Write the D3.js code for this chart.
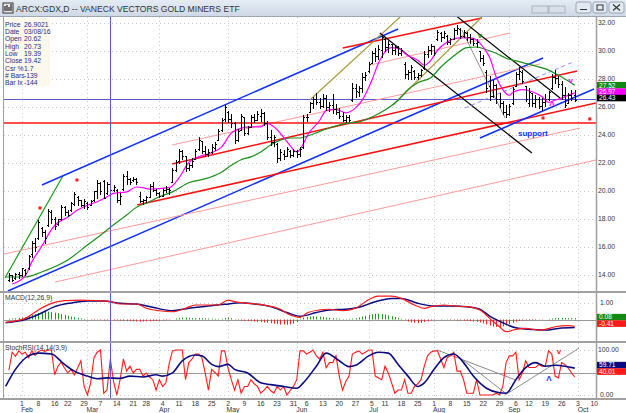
<!DOCTYPE html>
<html><head><meta charset="utf-8">
<script src="https://cdn.jsdelivr.net/npm/d3@7"></script>
<style>
body{margin:0;background:#fff;overflow:hidden;}
svg text{font-family:"Liberation Sans",Arial,sans-serif;}
</style></head><body>
<svg id="chart" width="626" height="413"></svg>
<script>
// ---- data ----
var holidays = ["2016-02-15","2016-03-25","2016-05-30","2016-07-04","2016-09-05"];
var barStart = "2016-01-26";
//            Jan(4)                Feb(20)
var opens = [13.6,13.9,13.7,14.0, 13.9,14.3,14.4,15.4,16.2,16.6,17.3,17.0,17.5,18.4,17.9,17.6,17.9,18.8,18.4,18.6,19.0,19.5,19.3,18.9,
  // Mar(22)
  19.1,18.9,19.3,19.9,20.5,20.62,19.8,20.4,20.0,20.0,19.3,20.1,21.0,20.8,20.7,20.8,19.6,19.2,19.3,19.5,20.3,20.0,
  // Apr(21)
  19.8,19.6,20.0,20.1,20.6,21.4,22.1,22.8,22.4,21.6,21.8,22.2,22.9,23.5,22.8,22.6,22.7,23.0,23.6,24.3,25.1,
  // May(21)
  25.6,25.1,24.8,23.6,24.3,25.2,24.1,24.5,25.2,25.0,25.3,25.5,24.8,23.8,23.4,23.3,22.3,22.6,22.4,22.8,22.5,
  // Jun(22)
  22.8,22.6,23.1,25.2,25.6,26.2,26.5,26.3,26.0,26.6,25.9,26.1,25.8,25.6,25.3,25.0,25.2,26.4,27.3,27.0,27.3,28.1,
  // Jul(20)
  28.5,29.1,29.8,29.6,30.0,30.8,30.2,30.4,30.0,30.2,29.8,29.0,28.3,28.4,28.5,28.1,28.2,28.7,29.7,30.0,
  // Aug(23)
  30.3,30.8,31.2,30.9,31.0,30.6,30.8,31.4,31.5,31.0,31.2,30.9,30.8,30.5,29.9,29.4,28.4,27.4,26.7,27.5,26.5,26.2,25.6,
  // Sep(21)
  25.4,26.2,27.4,28.3,28.4,27.4,26.2,26.9,26.2,26.5,26.0,26.3,26.5,27.3,28.1,28.0,27.6,26.8,26.2,26.8,26.8];
var highs = [14.1,14.0,14.1,14.2, 14.5,14.4,15.4,16.4,16.6,17.9,17.4,17.2,18.7,18.6,18.1,18.0,19.0,18.9,18.6,19.2,19.9,19.6,19.3,19.4,
  19.2,19.3,20.0,20.75,20.6,20.73,20.6,20.5,20.4,20.1,19.8,21.2,21.4,20.9,21.0,20.9,19.9,19.4,19.6,20.5,20.6,20.1,
  19.9,20.2,20.3,20.2,21.6,22.2,23.0,22.9,22.5,22.0,22.3,23.0,23.8,23.5,23.2,23.0,23.3,23.5,24.4,25.2,26.1,
  25.7,25.5,24.9,24.4,25.5,25.2,24.6,25.4,25.5,25.7,25.8,25.6,25.0,24.3,24.0,23.4,23.0,22.9,23.1,22.9,23.0,
  22.9,23.1,25.4,25.5,26.3,26.7,27.0,26.6,26.9,26.8,26.3,26.9,26.2,25.9,25.6,25.4,25.4,27.7,27.6,27.5,28.4,28.5,
  29.2,30.0,30.2,30.4,31.1,30.9,30.7,30.5,30.4,30.3,30.2,29.2,28.6,29.0,28.6,28.4,28.7,30.0,30.3,30.5,
  30.3,31.5,31.3,31.4,31.1,30.9,31.6,31.8,31.6,31.5,31.3,31.2,30.9,30.8,30.0,29.7,28.6,28.2,27.9,27.6,27.0,26.4,26.1,
  26.2,27.4,28.5,28.8,28.6,27.5,27.3,27.0,26.8,26.7,26.6,26.9,27.1,28.3,28.6,28.2,27.8,27.4,27.0,27.2,27.2];
var lows = [13.5,13.5,13.6,13.7, 13.8,13.9,14.3,15.2,15.6,16.5,16.7,16.2,17.4,17.6,17.2,17.5,17.8,18.2,18.1,18.5,18.9,18.9,18.8,18.7,
  18.6,18.9,19.2,19.4,19.7,19.39,19.7,19.8,19.9,19.1,19.0,20.0,20.4,20.4,20.6,20.4,19.1,19.0,19.1,19.5,19.9,19.6,
  19.5,19.6,19.8,19.7,20.6,21.3,21.9,22.2,21.3,21.4,21.6,22.2,22.8,22.6,22.4,22.4,22.6,22.8,23.6,24.2,24.9,
  24.8,24.5,23.3,23.5,24.3,23.9,24.0,24.5,24.8,25.0,24.9,24.6,23.6,23.2,23.1,22.0,22.1,22.2,22.4,22.3,22.4,
  22.3,22.4,23.0,24.9,25.6,25.8,26.1,25.8,25.9,25.7,25.6,25.5,25.4,25.1,24.9,24.8,24.9,26.3,26.6,26.7,27.0,27.8,
  28.4,29.1,29.2,29.3,29.5,29.9,29.8,29.7,29.7,29.6,29.6,28.0,27.9,27.9,27.9,27.9,28.1,28.6,29.5,29.7,
  29.6,30.7,30.6,30.8,30.4,30.4,30.8,31.1,30.8,30.9,30.7,30.5,30.3,30.2,29.2,28.9,27.0,26.4,26.6,26.2,25.9,25.4,25.2,
  25.3,26.1,27.4,27.9,27.6,26.3,26.0,26.0,25.9,25.8,25.7,26.0,26.4,27.2,27.6,27.3,26.5,25.9,26.2,26.4,26.3];
var closes = [13.9,13.6,14.0,13.9, 14.4,14.1,15.3,16.2,15.9,17.7,17.0,16.6,18.5,17.9,17.4,17.9,18.8,18.4,18.2,19.1,19.7,19.3,18.9,19.2,
  18.8,19.2,19.9,20.5,19.9,19.42,20.4,20.0,20.2,19.3,19.6,21.0,20.8,20.6,20.8,20.6,19.2,19.3,19.5,20.3,20.0,19.8,
  19.6,20.0,20.1,20.0,21.4,22.0,22.8,22.4,21.6,21.8,22.1,22.8,23.6,22.8,22.6,22.7,23.1,23.3,24.2,25.0,25.9,
  25.1,24.8,23.6,24.2,25.3,24.1,24.5,25.2,25.0,25.4,25.5,24.8,23.8,23.4,23.8,22.3,22.7,22.4,22.9,22.5,22.8,
  22.6,22.9,25.2,25.2,26.2,26.5,26.3,26.0,26.6,25.9,26.1,25.8,25.6,25.3,25.0,25.2,25.0,27.3,27.1,27.3,28.1,28.2,
  29.0,29.8,29.6,30.1,30.9,30.2,30.4,30.0,30.2,29.8,30.0,28.3,28.4,28.8,28.1,28.2,28.6,29.7,30.0,30.3,
  29.8,31.3,30.9,31.2,30.6,30.8,31.4,31.6,31.0,31.3,30.9,30.8,30.5,30.6,29.4,29.1,27.3,26.7,27.5,26.5,26.2,25.6,25.4,
  26.0,27.2,28.3,28.5,27.8,26.5,27.0,26.2,26.5,26.0,26.3,26.5,27.0,28.1,28.0,27.6,26.8,26.1,26.8,26.6,26.43];

// moving averages, [bar index, price]; index 0 = Feb 1
var fastMA = [[-3,13.32],[1,13.9],[3,14.9],[6,16.0],[9,17.2],[10,17.5],[14,18.1],[17,18.6],[20,18.95],[23,19.2],[26,19.55],
  [28,19.8],[32,19.9],[35,20.25],[37,20.2],[39,20.1],[45,20.2],[48,20.9],[51,22.0],[54,22.4],[58,22.7],[61,23.1],[64,24.1],
  [67,24.45],[70,24.55],[73,24.55],[75,24.8],[77,24.55],[80,23.8],[82,23.2],[84,22.75],[88,24.2],[91,25.0],[93,25.7],[96,25.8],
  [99,25.55],[102,25.9],[104,26.45],[107,27.9],[109,29.1],[111,29.9],[113,30.2],[116,30.05],[117,29.8],[121,29.3],[123,28.95],
  [125,29.3],[127,30.0],[130,30.6],[134,30.9],[137,30.9],[139,30.75],[141,30.25],[143,29.5],[145,28.1],[147,27.2],[149,26.8],
  [150,27.0],[153,27.2],[156,27.05],[159,26.7],[161,26.3],[163,26.45],[165,26.6],[167,26.8],[169,26.97]];
var slowMA = [[-5,13.82],[1,13.82],[6,14.18],[14,15.04],[20,16.1],[24,16.8],[28,17.55],[32,18.25],[35,18.8],[39,19.2],
  [42,19.55],[46,19.9],[51,20.55],[57,20.9],[61,21.3],[64,21.8],[67,22.2],[70,22.4],[73,22.75],[76,23.25],[79,23.6],[82,23.75],
  [85,23.75],[88,23.95],[95,24.55],[99,24.8],[103,24.9],[107,25.25],[111,25.75],[115,26.45],[118,27.2],[121,27.7],[125,28.05],
  [128,28.8],[132,29.6],[136,30.2],[139,30.25],[142,30.05],[145,29.8],[148,29.45],[152,29.2],[156,28.95],[161,28.6],[165,28.1],
  [169,27.52]];

// MACD(12,26,9)
var macdLine = [[-5,-0.17],[1,0.07],[5,0.58],[9,0.98],[13,1.14],[18,1.18],[23,1.14],[27,1.08],[30,0.94],[35,0.94],[38,0.68],
  [42,0.53],[46,0.47],[50,0.68],[53,0.88],[57,0.88],[60,0.88],[63,1.18],[65,1.08],[69,0.98],[74,0.88],[79,0.62],[82,0.27],
  [85,0.13],[87,0.38],[91,0.58],[94,0.62],[98,0.53],[102,0.68],[105,1.08],[109,1.42],[113,1.42],[116,1.28],[120,0.88],[123,0.68],
  [125,0.78],[129,0.88],[132,0.82],[136,0.78],[140,0.58],[143,0.07],[146,-0.44],[148,-0.74],[151,-0.6],[154,-0.54],[158,-0.64],
  [160,-0.6],[163,-0.44],[167,-0.37],[169,-0.41]];
var signalLine = [[-5,-0.2],[1,0.0],[5,0.3],[10,0.78],[15,1.0],[20,1.12],[25,1.12],[30,0.98],[35,0.94],[40,0.74],[46,0.53],
  [51,0.68],[57,0.82],[62,0.92],[67,1.02],[71,0.94],[76,0.78],[81,0.42],[85,0.2],[90,0.42],[94,0.58],[99,0.62],[103,0.74],
  [108,1.08],[113,1.28],[116,1.28],[121,0.98],[126,0.82],[131,0.82],[136,0.78],[140,0.62],[143,0.2],[147,-0.2],[151,-0.5],
  [156,-0.6],[160,-0.64],[164,-0.54],[169,-0.49]];
var macdHist = [0.05,0.06,0.08,0.1, 0.12,0.15,0.2,0.28,0.33,0.4, 0.45,0.5,0.48,0.45,0.42,0.38,0.33, 0.28,0.22,0.18,0.14,0.1,0.07,0.04,
  -0.02,-0.03,-0.03,-0.02,-0.04,-0.05,-0.04,-0.03,-0.05,-0.06,
  -0.06,-0.08,-0.1,-0.1,-0.11,-0.12,-0.12,-0.12,-0.11,-0.1,-0.1,-0.09,-0.08,-0.06,-0.04, -0.02,0,
  0.06,0.1,0.12,0.12,0.1,0.09,0.08,0.09,0.08,0.07,0.06,0.05,0.04, 0.03,0.05,0.1,0.12,
  0.08,0.02,-0.04,-0.06,-0.08,-0.1,-0.1,-0.12,-0.14,-0.16,-0.18,-0.2,-0.22,-0.25,-0.28,-0.3,-0.3, -0.32,-0.3,-0.25,-0.15,
  0.05,0.12,0.15,0.18,0.2,0.18,0.17,0.15,0.12,0.1,0.08,0.06,0.05, 0.03,0.03,0.04,0.05,0.08,
  0.12,0.18,0.22,0.28,0.32,0.35,0.35,0.33,0.3,0.25,0.2,0.15,0.1,0.05, -0.05,-0.12,-0.18,-0.2,-0.22,-0.2,-0.15,-0.1,-0.05,
  -0.03,0,0.02,0.01,-0.02,-0.03,-0.04,-0.06,-0.07,-0.08,-0.09,-0.1,-0.12,-0.14,
  -0.18,-0.24,-0.3,-0.36,-0.42,-0.45,-0.45,-0.42,-0.36,-0.28, -0.2,-0.12,-0.08,-0.06,-0.05,-0.04,-0.04,-0.03,
  -0.02,-0.02,0,0.03,0.06,0.08, 0.09,0.1,0.09,0.08,0.08,0.08];

// StochRSI(14,14,3,9)
var stochK = [55,95,86,98,91,95,83,98,88,96, 100,97,100,100,45,64,73,60,49,57, 45,60,76,19,0,27,83,95,100,4,
  11,80,30,0,34,80,53,64,49,57, 57,42,49,40,34,11,34,19,27,70, 98,100,100,100,34,72,80,91,91,83,
  49,11,57,50,42,98,98,60,34,11, 34,4,19,19,34,25,19,4,11,19, 10,4,19,11,19,0,10,19,34,98,
  98,91,95,100,87,80,95,61,72,72, 87,42,11,30,42,91,95,98,91,95, 100,100,42,38,34,64,49,27,4,11,
  11,34,4,4,19,25,34,64,87,95, 98,98,80,61,83,87,95,53,53,34, 4,4,4,34,0,0,0,0,0,4,
  0,19,72,87,87,95,34,49,76,61, 61,61,68,64,64,98,91,42,38,72, 68,60,49,40];
var stochD = [[-5,19],[-2,57],[2,87],[5,93],[9,91],[13,68],[16,53],[20,42],[23,36],[26,38],[30,37],[33,42],[37,40],[41,45],
  [43,42],[46,49],[49,76],[53,89],[55,87],[58,68],[60,63],[63,68],[65,57],[69,49],[73,27],[76,23],[80,19],[84,15],[86,27],
  [90,64],[93,93],[97,76],[100,63],[102,66],[106,87],[109,95],[112,93],[115,68],[118,42],[121,19],[123,27],[126,57],[129,83],
  [132,91],[135,72],[138,42],[142,15],[146,5],[148,4],[151,34],[154,61],[157,72],[160,64],[163,66],[166,64],[169,59.71]];

var priceTicks = [14,16,18,20,22,24,26,28,30,32];
var dayTicks = ["2016-02-01","2016-02-08","2016-02-16","2016-02-22","2016-02-29","2016-03-07","2016-03-14","2016-03-21",
  "2016-03-28","2016-04-04","2016-04-11","2016-04-18","2016-04-25","2016-05-02","2016-05-09","2016-05-16","2016-05-23",
  "2016-05-31","2016-06-06","2016-06-13","2016-06-20","2016-06-27","2016-07-05","2016-07-11","2016-07-18","2016-07-25",
  "2016-08-01","2016-08-08","2016-08-15","2016-08-22","2016-08-29","2016-09-06","2016-09-12","2016-09-19","2016-09-26",
  "2016-10-03","2016-10-10"];
var monthTicks = ["2016-02-01","2016-03-01","2016-04-01","2016-05-02","2016-06-01","2016-07-01","2016-08-01","2016-09-01","2016-10-03"];
var monthLabels = ["Feb","Mar","Apr","May","Jun","Jul","Aug","Sep","Oct"];

var infoLabels = ["Price","Date","Open","High","Low","Close","Csr %","# Bars","Bar Ix"];
var infoValues = ["26.9021","03/08/16","20.62","20.73","19.39","19.42","1.7","-139","-144"];

// drawn trend lines, ends as [bar index, price]
var trendLines = [
  {a:[-5.2,13.75], b:[12.5,21.04], c:"#1a9a1a", w:1.2},
  {a:[6.1,20.39], b:[115,31.54], c:"#1030ff", w:1.5},
  {a:[-4.3,12.82], b:[159.3,29.46], c:"#1030ff", w:1.5},
  {a:[-5.5,15.46], b:[170.6,24.46], c:"#ff9a9a", w:1},
  {a:[10.1,13.46], b:[175.5,22.18], c:"#ff9a9a", w:1},
  {a:[45.9,23.25], b:[158.4,29.04], c:"#ff9a9a", w:1},
  {a:[106.4,28.96], b:[149.2,31.25], c:"#ff9a9a", w:1},
  {a:[98.1,30.18], b:[140.6,32.32], c:"#ff1010", w:1.5},
  {a:[45.9,21.89], b:[169.7,28.54], c:"#ff1010", w:1.5},
  {a:[35.2,18.96], b:[175.5,26.25], c:"#ff1010", w:1.5},
  {a:[-5.5,24.82], b:[175.5,24.82], c:"#ff1010", w:1.3},
  {a:[88,26.46], b:[115.6,32.39], c:"#a89a3a", w:1.2},
  {a:[113.4,26.11], b:[140.6,32.39], c:"#a89a3a", w:1.2},
  {a:[109.4,31.25], b:[155.9,22.68], c:"#000", w:1.2},
  {a:[132.4,32.54], b:[164.5,26.61], c:"#000", w:1.2},
  {a:[134.5,31.46], b:[147.7,25.18], c:"#909090", w:1},
  {a:[135.4,25.89], b:[168.5,29.18], c:"#8c8cff", w:1, dash:"4,3"},
  {a:[140,23.75], b:[174.9,27.25], c:"#1030ff", w:1.5}
];
var stochLines = [
  {a:[126.9,100], b:[150.7,34]},
  {a:[132.4,91], b:[147.7,5]},
  {a:[147.7,0], b:[170.3,104]}
];
var redDots = [[5.5,18.75],[16.8,20.75],[159.3,25.18],[173.6,25.11]];
var crossIx = 26.9, crossPrice = 26.55;

// ---- drawing ----
var svg = d3.select("#chart");
var days = [];
for (var t = new Date(Date.UTC(2016,0,25)); t <= new Date(Date.UTC(2016,9,14)); t.setUTCDate(t.getUTCDate() + 1)) {
    var s = t.toISOString().slice(0,10), wd = t.getUTCDay();
    if (wd > 0 && wd < 6 && holidays.indexOf(s) < 0) days.push(s);
}
var ix = s => days.indexOf(s) - 5;
var b0 = ix(barStart);

var cs = {
    x: d3.scaleLinear().domain([-5.5,175.5]).range([4,596]),
    yP: d3.scaleLinear().domain([14,32]).range([274.5,22.5]),
    yM: d3.scaleLinear().domain([0,1]).range([319.5,303]),
    yS: d3.scaleLinear().domain([0,100]).range([395,350]),
    panels: [{top:17,bottom:291},{top:293,bottom:341},{top:343,bottom:398}]
};
var x = cs.x, yP = cs.yP, yM = cs.yM, yS = cs.yS;

svg.append("rect").attr("width",626).attr("height",413).attr("fill","#fff");

// title bar
var grad = svg.append("defs").append("linearGradient").attr("id","tb").attr("x1",0).attr("y1",0).attr("x2",0).attr("y2",1);
grad.append("stop").attr("offset","0%").attr("stop-color","#e4ebf4");
grad.append("stop").attr("offset","100%").attr("stop-color","#cfd9e6");
svg.append("rect").attr("width",626).attr("height",16).attr("fill","url(#tb)");
svg.append("line").attr("x1",0).attr("x2",626).attr("y1",16.5).attr("y2",16.5).attr("stroke","#9aa6b4");
svg.append("rect").attr("x",3).attr("y",3).attr("width",10).attr("height",10).attr("fill","#e8e8e8").attr("stroke","#333");
svg.append("path").attr("d","M5,11V6M7,11V5M9,11V7M11,11V4").attr("stroke","#222").attr("stroke-width",1.2);
svg.append("text").attr("x",16).attr("y",12).attr("font-size","8.6px").attr("fill","#333")
    .text("ARCX:GDX,D -- VANECK VECTORS GOLD MINERS ETF");
[[532,16],[549,16]].forEach(b => svg.append("rect").attr("x",b[0]).attr("y",6).attr("width",b[1]).attr("height",7)
    .attr("fill","#d8dfe8").attr("stroke","#8a96a6").attr("stroke-width",0.6));
[[576,15],[593,14],[609,15]].forEach(b => svg.append("rect").attr("x",b[0]).attr("y",2).attr("width",b[1]).attr("height",11).attr("rx",2)
    .attr("fill","#e3e9f1").attr("stroke","#7d8a9b").attr("stroke-width",0.7));
svg.append("line").attr("x1",580).attr("x2",587).attr("y1",9.5).attr("y2",9.5).attr("stroke","#333");
svg.append("rect").attr("x",597).attr("y",5).attr("width",6).attr("height",5).attr("fill","none").attr("stroke","#333");
svg.append("path").attr("d","M613,4.5l7,6M620,4.5l-7,6").attr("stroke","#333").attr("stroke-width",1.2);

// panel clips and grids
var defs = svg.select("defs");
cs.panels.forEach((p,k) => {
    defs.append("clipPath").attr("id","clip" + k).append("rect")
        .attr("x",4).attr("y",p.top).attr("width",592).attr("height",p.bottom - p.top);
    var g = svg.append("g").attr("clip-path","url(#clip" + k + ")");
    g.selectAll("line.vg").data(monthTicks).enter().append("line")
        .attr("x1",d => Math.round(x(ix(d))) + 0.5).attr("x2",d => Math.round(x(ix(d))) + 0.5)
        .attr("y1",p.top).attr("y2",p.bottom).attr("stroke","#c8c8c8").attr("stroke-dasharray","1,3");
});
var gP = svg.append("g").attr("clip-path","url(#clip0)");
var gM = svg.append("g").attr("clip-path","url(#clip1)");
var gS = svg.append("g").attr("clip-path","url(#clip2)");

gP.selectAll("line.hg").data(priceTicks).enter().append("line")
    .attr("x1",4).attr("x2",596).attr("y1",d => Math.round(yP(d)) + 0.5).attr("y2",d => Math.round(yP(d)) + 0.5)
    .attr("stroke","#c8c8c8").attr("stroke-dasharray","1,3");
gM.append("line").attr("x1",4).attr("x2",596).attr("y1",Math.round(yM(1)) + 0.5).attr("y2",Math.round(yM(1)) + 0.5)
    .attr("stroke","#c8c8c8").attr("stroke-dasharray","1,3");
gS.selectAll("line.sg").data([0,100]).enter().append("line")
    .attr("x1",4).attr("x2",596).attr("y1",d => Math.round(yS(d)) + 0.5).attr("y2",d => Math.round(yS(d)) + 0.5)
    .attr("stroke","#c8c8c8").attr("stroke-dasharray","1,3");

// crosshair
gP.append("line").attr("x1",4).attr("x2",596).attr("y1",Math.round(yP(crossPrice)) + 0.5).attr("y2",Math.round(yP(crossPrice)) + 0.5)
    .attr("stroke","#5a5ad0").attr("stroke-width",1);

// trend lines
gP.selectAll("line.tl").data(trendLines).enter().append("line")
    .attr("x1",d => x(d.a[0])).attr("y1",d => yP(d.a[1]))
    .attr("x2",d => x(d.b[0])).attr("y2",d => yP(d.b[1]))
    .attr("stroke",d => d.c).attr("stroke-width",d => d.w)
    .attr("stroke-dasharray",d => d.dash || null);

// moving averages
var lineP = d3.line().x(d => x(d[0])).y(d => yP(d[1])).curve(d3.curveMonotoneX);
gP.append("path").datum(slowMA).attr("d",lineP).attr("fill","none").attr("stroke","#1b8f1b").attr("stroke-width",1.2);
gP.append("path").datum(fastMA).attr("d",lineP).attr("fill","none").attr("stroke","#ff00ff").attr("stroke-width",1.2);

// OHLC bars
var bars = d3.range(opens.length).map(i => ({i: b0 + i, o: opens[i], h: highs[i], l: lows[i], c: closes[i]}));
var bx = d => Math.round(x(d.i)) + 0.5;
var gb = gP.append("g").attr("stroke","#000").attr("stroke-width",1).attr("shape-rendering","crispEdges");
gb.selectAll("path").data(bars).enter().append("path")
    .attr("d",d => "M" + bx(d) + "," + yP(d.h) + "V" + yP(d.l) +
        "M" + (bx(d) - 1.5) + "," + yP(d.o) + "H" + bx(d) +
        "M" + bx(d) + "," + yP(d.c) + "H" + (bx(d) + 1.5));

// red dots and marks
gP.selectAll("rect.dot").data(redDots).enter().append("rect")
    .attr("x",d => x(d[0]) - 1.5).attr("y",d => yP(d[1]) - 1.5).attr("width",3).attr("height",3).attr("fill","#ff1a1a");
var marks = [
    {p:[140,31.1], t:"v", c:"#1b8f1b"},
    {p:[167.8,27.9], t:"v", c:"#ff00ff"},
    {p:[162,26.25], t:"Λ", c:"#ff00ff"}
];
gP.selectAll("text.mk").data(marks).enter().append("text")
    .attr("x",d => x(d.p[0])).attr("y",d => yP(d.p[1]) + 3).attr("text-anchor","middle")
    .attr("font-size","8px").attr("font-weight","bold").attr("fill",d => d.c).text(d => d.t);
gP.append("text").attr("x",x(156.2)).attr("y",yP(24.1) + 3).attr("text-anchor","middle")
    .attr("font-size","8px").attr("font-weight","bold").attr("fill","#1030ff").text("support");

// info box
svg.append("rect").attr("x",4).attr("y",18).attr("width",46).attr("height",68).attr("fill","#fcf8ec");
infoLabels.forEach((l,k) => {
    svg.append("text").attr("x",5).attr("y",26.5 + k * 7.35).attr("font-size","6.8px").attr("fill","#1c2f8c").text(l);
    svg.append("text").attr("x",24).attr("y",26.5 + k * 7.35).attr("font-size","6.8px").attr("fill","#1c2f8c").text(infoValues[k]);
});

// MACD panel
gM.append("line").attr("x1",4).attr("x2",596).attr("y1",Math.round(yM(0)) + 0.5).attr("y2",Math.round(yM(0)) + 0.5)
    .attr("stroke","#999").attr("stroke-width",1);
gM.selectAll("line.h").data(macdHist).enter().append("line")
    .attr("x1",(d,i) => Math.round(x(b0 + i)) + 0.5).attr("x2",(d,i) => Math.round(x(b0 + i)) + 0.5)
    .attr("y1",yM(0)).attr("y2",d => yM(d))
    .attr("stroke",d => d >= 0 ? "#1f9a1f" : "#ff2020").attr("stroke-width",1);
var lineM = d3.line().x(d => x(d[0])).y(d => yM(d[1])).curve(d3.curveMonotoneX);
gM.append("path").datum(signalLine).attr("d",lineM).attr("fill","none").attr("stroke","#0a0a80").attr("stroke-width",1.5);
gM.append("path").datum(macdLine).attr("d",lineM).attr("fill","none").attr("stroke","#ff1a1a").attr("stroke-width",1.2);
svg.append("text").attr("x",5).attr("y",300).attr("font-size","6.8px").attr("fill","#333").text("MACD(12,26,9)");

// StochRSI panel
gS.append("line").attr("x1",4).attr("x2",596).attr("y1",Math.round(yS(50)) + 0.5).attr("y2",Math.round(yS(50)) + 0.5)
    .attr("stroke","#999").attr("stroke-width",1);
gS.selectAll("line.sl").data(stochLines).enter().append("line")
    .attr("x1",d => x(d.a[0])).attr("y1",d => yS(d.a[1])).attr("x2",d => x(d.b[0])).attr("y2",d => yS(d.b[1]))
    .attr("stroke","#8a8a8a").attr("stroke-width",1);
gS.append("path").datum(stochK).attr("d",d3.line().x((d,i) => x(b0 + i)).y(d => yS(d)))
    .attr("fill","none").attr("stroke","#ff1a1a").attr("stroke-width",1.1);
gS.append("path").datum(stochD).attr("d",d3.line().x(d => x(d[0])).y(d => yS(d[1])).curve(d3.curveMonotoneX))
    .attr("fill","none").attr("stroke","#0a0a80").attr("stroke-width",1.6);
gS.append("text").attr("x",x(161.1)).attr("y",yS(38.6) + 3).attr("text-anchor","middle").attr("font-size","8px")
    .attr("font-weight","bold").attr("fill","#1030ff").text("Λ");
gS.append("text").attr("x",x(164.2)).attr("y",yS(98) + 3).attr("text-anchor","middle").attr("font-size","8px")
    .attr("font-weight","bold").attr("fill","#ff1a1a").text("v");
svg.append("text").attr("x",5).attr("y",350).attr("font-size","6.8px").attr("fill","#333").text("StochRSI(14,14(3,9)");

// vertical crosshair across panels
svg.append("line").attr("x1",Math.round(x(crossIx)) + 0.5).attr("x2",Math.round(x(crossIx)) + 0.5)
    .attr("y1",17).attr("y2",398).attr("stroke","#5a5ad0").attr("stroke-width",1);

// frames
cs.panels.forEach(p => {
    svg.append("line").attr("x1",0).attr("x2",626).attr("y1",p.bottom + 1).attr("y2",p.bottom + 1)
        .attr("stroke","#a0a0a0").attr("stroke-width",2);
});
svg.append("line").attr("x1",3.5).attr("x2",3.5).attr("y1",17).attr("y2",399).attr("stroke","#a0a0a0");
svg.append("line").attr("x1",596.5).attr("x2",596.5).attr("y1",17).attr("y2",399).attr("stroke","#a0a0a0").attr("stroke-width",1.5);

// right axis labels
var axR = svg.append("g").attr("font-size","6.8px").attr("fill","#333");
priceTicks.forEach(p => axR.append("text").attr("x",598).attr("y",yP(p) + 2.4).text(p.toFixed(2)));
axR.append("text").attr("x",600).attr("y",yM(1) + 2.4).text("1.00");
axR.append("text").attr("x",598).attr("y",yS(100) + 2.4).text("100.00");
axR.append("text").attr("x",598).attr("y",yS(50) + 2.4).text("50.00");
axR.append("text").attr("x",600).attr("y",yS(0) + 2.4).text("0.00");

// value tags
var tag = function (y0, list) {
    list.forEach((t,k) => {
        var y = y0 + k * 6.4;
        svg.append("rect").attr("x",597).attr("y",y - 3.3).attr("width",29).attr("height",6.6).attr("fill",t[1]);
        svg.append("text").attr("x",599).attr("y",y + 2.3).attr("font-size","6.6px").attr("fill",t[2] || "#fff").text(t[0]);
    });
};
tag(yP(27.52), [["27.52","#128a12"],["26.97","#ff00ff"],["26.43","#000"]]);
tag(yM(0.08) - 1, [["0.08","#128a12"],["-0.41","#ff1a1a"]]);
tag(yS(59.71) - 3, [["59.71","#0a0a80"],["40.01","#ff1a1a"]]);

// date axis
var axB = svg.append("g").attr("font-size","6.8px").attr("fill","#333").attr("text-anchor","middle");
dayTicks.forEach(d => axB.append("text").attr("x",x(ix(d))).attr("y",405.5).text(+d.slice(8)));
monthTicks.forEach((d,k) => axB.append("text").attr("x",x(ix(d)) + 5).attr("y",412).text(monthLabels[k]));
</script></body></html>
